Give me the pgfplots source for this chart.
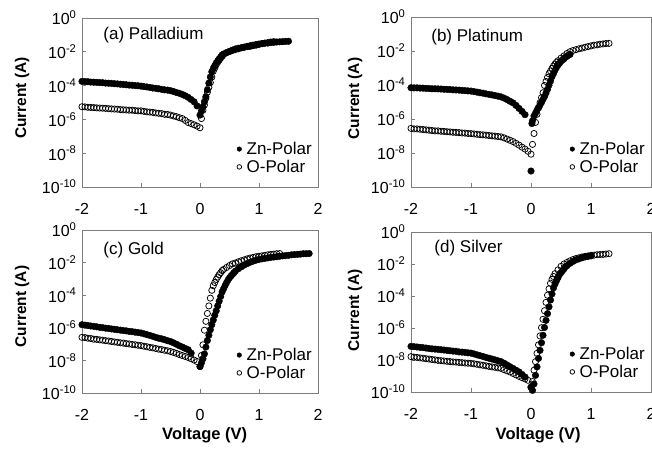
\documentclass[border=0pt]{standalone}
\usepackage{pgfplots}
\pgfplotsset{compat=1.18}
\usepackage{fontspec}
\setmainfont{Liberation Sans}

\definecolor{framegray}{RGB}{125,125,125}

\pgfplotsset{
  ivpanel/.style={
    scale only axis,
    anchor=south west,
    xmin=-2, xmax=2,
    xtick={-2,-1,0,1,2},
    xticklabels={-2,-1,0,1,2},
    axis line style={framegray, line width=0.9pt},
    every tick/.style={framegray, line width=0.8pt},
    tick align=inside,
    major tick length=4pt,
    xtick pos=bottom, ytick pos=left,
    tick label style={font=\fontsize{16}{18}\selectfont},
    xticklabel style={yshift=-13pt},
    yticklabel style={xshift=-2pt},
    every axis y label/.style={rotate=90, anchor=center,
      font=\fontsize{15.5}{17}\selectfont\bfseries},
    every axis x label/.style={anchor=center,
      font=\fontsize{16.5}{18}\selectfont\bfseries},
    ylabel={Current (A)},
    legend style={draw=none, fill=none, at={(1,0)}, anchor=south east,
      xshift=-3pt, yshift=10pt,
      font=\fontsize{17}{19}\selectfont, row sep=0pt, inner sep=1pt,
      /tikz/every odd column/.append style={column sep=3pt}},
    legend cell align=left,
    clip=false,
  },
  zn/.style={only marks, mark=*, mark size=3.3pt, mark options={draw=black, fill=black}},
  opol/.style={only marks, mark=o, mark size=3.1pt, mark options={draw=black, line width=0.75pt, fill=white}},
  smallmark/.style={legend image post style={mark size=2.3pt}},
}

\newcommand{\paneltitle}[3]{\node[anchor=west, font=\fontsize{17}{19}\selectfont] at (rel axis cs:#1,#2) {#3};}

\begin{document}
\begin{tikzpicture}

% ---------------- (a) Palladium ----------------
\begin{axis}[ivpanel, ymode=log, ymin=1e-10, ymax=1,
  ytick={1e-10,1e-8,1e-6,1e-4,1e-2,1},
  yticklabels={10\textsuperscript{-10},10\textsuperscript{-8},10\textsuperscript{-6},10\textsuperscript{-4},10\textsuperscript{-2},10\textsuperscript{0}},
  yminorticks=false,
  at={(82pt,262pt)}, width=236pt, height=169pt,
  every axis y label/.append style={at={(axis description cs:-0.254,0.527)}}]
\addplot[zn, smallmark] coordinates {
(-2.00,1.78e-4) (-1.95,1.74e-4) (-1.90,1.70e-4) (-1.85,1.62e-4) (-1.80,1.58e-4)
(-1.75,1.55e-4) (-1.70,1.51e-4) (-1.65,1.48e-4) (-1.60,1.41e-4) (-1.55,1.38e-4)
(-1.50,1.35e-4) (-1.45,1.29e-4) (-1.40,1.26e-4) (-1.35,1.20e-4) (-1.30,1.17e-4)
(-1.25,1.12e-4) (-1.20,1.07e-4) (-1.15,1.05e-4) (-1.10,1.00e-4) (-1.05,9.8e-5)
(-1.00,9.3e-5) (-0.95,8.7e-5) (-0.90,8.3e-5) (-0.85,7.8e-5) (-0.80,7.2e-5)
(-0.75,6.9e-5) (-0.70,6.5e-5) (-0.65,6.0e-5) (-0.60,5.6e-5) (-0.55,5.4e-5)
(-0.50,5.0e-5) (-0.45,4.5e-5) (-0.40,3.9e-5) (-0.35,3.5e-5) (-0.30,3.0e-5)
(-0.25,2.5e-5) (-0.20,2.0e-5) (-0.15,1.5e-5) (-0.10,1.1e-5) (-0.05,6.3e-6)
(0.00,1.8e-6) (0.025,3.2e-6) (0.05,5.6e-6) (0.075,1.1e-5) (0.10,2.2e-5)
(0.125,5.6e-5) (0.15,1.4e-4) (0.175,3.2e-4) (0.20,6.6e-4) (0.225,1.05e-3)
(0.25,1.5e-3) (0.275,2.2e-3) (0.30,2.9e-3) (0.325,3.8e-3) (0.35,5.0e-3)
(0.375,6.5e-3) (0.40,7.4e-3) (0.45,8.9e-3) (0.50,1.05e-2) (0.55,1.26e-2)
(0.60,1.48e-2) (0.65,1.62e-2) (0.70,1.74e-2) (0.75,1.86e-2) (0.80,2.0e-2)
(0.85,2.1e-2) (0.90,2.3e-2) (0.95,2.5e-2) (1.00,2.75e-2) (1.05,3.0e-2)
(1.10,3.2e-2) (1.15,3.3e-2) (1.20,3.5e-2) (1.25,3.6e-2) (1.30,3.8e-2)
(1.35,3.9e-2) (1.40,4.0e-2) (1.45,4.1e-2) (1.50,4.2e-2)
};
\addlegendentry{Zn-Polar}
\addplot[opol, smallmark] coordinates {
(-2.00,5.6e-6) (-1.95,5.5e-6) (-1.90,5.2e-6) (-1.85,5.1e-6) (-1.80,5.0e-6)
(-1.75,4.8e-6) (-1.70,4.7e-6) (-1.65,4.6e-6) (-1.60,4.5e-6) (-1.55,4.3e-6)
(-1.50,4.2e-6) (-1.45,4.1e-6) (-1.40,4.0e-6) (-1.35,3.8e-6) (-1.30,3.7e-6)
(-1.25,3.6e-6) (-1.20,3.5e-6) (-1.15,3.5e-6) (-1.10,3.3e-6) (-1.05,3.2e-6)
(-1.00,3.2e-6) (-0.95,3.0e-6) (-0.90,2.8e-6) (-0.85,2.7e-6) (-0.80,2.6e-6)
(-0.75,2.4e-6) (-0.70,2.3e-6) (-0.65,2.2e-6) (-0.60,2.0e-6) (-0.55,1.95e-6)
(-0.50,1.8e-6) (-0.45,1.6e-6) (-0.40,1.45e-6) (-0.35,1.26e-6) (-0.30,1.12e-6)
(-0.25,8.7e-7) (-0.20,6.5e-7) (-0.15,5.6e-7) (-0.10,4.8e-7) (-0.05,4.0e-7)
(0.00,3.2e-7) (0.025,1.12e-6) (0.05,3.5e-6) (0.075,7.1e-6) (0.10,1.8e-5)
(0.125,4.0e-5) (0.15,7.9e-5) (0.175,1.5e-4) (0.20,3.2e-4) (0.225,7.1e-4)
(0.25,1.1e-3) (0.275,1.7e-3) (0.30,2.4e-3) (0.325,3.2e-3) (0.35,4.2e-3)
(0.375,5.4e-3) (0.40,6.8e-3) (0.45,8.9e-3) (0.50,1.05e-2) (0.55,1.2e-2)
(0.60,1.35e-2) (0.65,1.5e-2) (0.70,1.7e-2) (0.75,1.9e-2) (0.80,2.1e-2)
(0.85,2.3e-2) (0.90,2.5e-2) (0.95,2.7e-2) (1.00,2.9e-2) (1.05,3.1e-2)
(1.10,3.3e-2) (1.15,3.5e-2) (1.20,3.8e-2) (1.25,4.0e-2)
};
\addlegendentry{O-Polar}
\paneltitle{0.076}{0.9}{(a) Palladium}
\end{axis}

% ---------------- (b) Platinum ----------------
\begin{axis}[ivpanel, ymode=log, ymin=1e-10, ymax=1,
  ytick={1e-10,1e-8,1e-6,1e-4,1e-2,1},
  yticklabels={10\textsuperscript{-10},10\textsuperscript{-8},10\textsuperscript{-6},10\textsuperscript{-4},10\textsuperscript{-2},10\textsuperscript{0}},
  yminorticks=false,
  at={(411pt,262pt)}, width=240pt, height=170pt,
  every axis y label/.append style={at={(axis description cs:-0.233,0.52)}}]
\addplot[zn, smallmark] coordinates {
(-2.00,6.9e-5) (-1.95,6.8e-5) (-1.90,6.8e-5) (-1.85,6.6e-5) (-1.80,6.5e-5)
(-1.75,6.3e-5) (-1.70,6.2e-5) (-1.65,6.0e-5) (-1.60,6.0e-5) (-1.55,5.9e-5)
(-1.50,5.8e-5) (-1.45,5.6e-5) (-1.40,5.5e-5) (-1.35,5.4e-5) (-1.30,5.2e-5)
(-1.25,5.1e-5) (-1.20,5.0e-5) (-1.15,4.8e-5) (-1.10,4.7e-5) (-1.05,4.5e-5)
(-1.00,4.4e-5) (-0.95,4.1e-5) (-0.90,3.8e-5) (-0.85,3.5e-5) (-0.80,3.3e-5)
(-0.75,3.0e-5) (-0.70,2.8e-5) (-0.65,2.6e-5) (-0.60,2.4e-5) (-0.55,2.2e-5)
(-0.50,2.0e-5) (-0.45,1.7e-5) (-0.40,1.4e-5) (-0.35,1.1e-5) (-0.30,8.9e-6)
(-0.25,6.3e-6) (-0.20,4.2e-6) (-0.15,2.8e-6) (-0.10,1.8e-6)
(0.00,8.7e-10) (0.015,5.4e-7) (0.025,7.9e-7) (0.05,1.5e-6) (0.075,2.2e-6)
(0.10,3.3e-6) (0.125,4.7e-6) (0.15,6.6e-6) (0.175,9.5e-6) (0.20,1.45e-5)
(0.225,2.1e-5) (0.25,3.4e-5) (0.275,5.6e-5) (0.30,9.8e-5) (0.325,1.7e-4)
(0.35,3.1e-4) (0.375,4.8e-4) (0.40,7.4e-4) (0.425,1.1e-3) (0.45,1.5e-3)
(0.475,1.9e-3) (0.50,2.5e-3) (0.525,3.0e-3) (0.55,3.5e-3) (0.575,4.3e-3)
(0.60,4.9e-3) (0.625,5.6e-3) (0.65,6.3e-3)
};
\addlegendentry{Zn-Polar}
\addplot[opol, smallmark] coordinates {
(-2.00,2.8e-7) (-1.95,2.6e-7) (-1.90,2.6e-7) (-1.85,2.5e-7) (-1.80,2.4e-7)
(-1.75,2.3e-7) (-1.70,2.2e-7) (-1.65,2.1e-7) (-1.60,2.0e-7) (-1.55,2.0e-7)
(-1.50,1.9e-7) (-1.45,1.86e-7) (-1.40,1.78e-7) (-1.35,1.74e-7) (-1.30,1.66e-7)
(-1.25,1.62e-7) (-1.20,1.58e-7) (-1.15,1.51e-7) (-1.10,1.48e-7) (-1.05,1.41e-7)
(-1.00,1.38e-7) (-0.95,1.32e-7) (-0.90,1.26e-7) (-0.85,1.2e-7) (-0.80,1.17e-7)
(-0.75,1.12e-7) (-0.70,1.07e-7) (-0.65,1.02e-7) (-0.60,9.8e-8) (-0.55,9.3e-8)
(-0.50,8.9e-8) (-0.45,7.8e-8) (-0.40,6.6e-8) (-0.35,5.6e-8) (-0.30,4.7e-8)
(-0.25,3.7e-8) (-0.20,2.9e-8) (-0.15,2.2e-8) (-0.10,1.7e-8) (-0.05,1.26e-8)
(0.00,8.5e-9) (0.025,3.2e-8) (0.05,1.4e-7) (0.075,6.3e-7) (0.10,1.9e-6)
(0.125,4.5e-6) (0.15,9.1e-6) (0.175,1.8e-5) (0.20,3.5e-5) (0.225,9.3e-5)
(0.25,1.6e-4) (0.275,2.8e-4) (0.30,4.6e-4) (0.325,6.6e-4) (0.35,9.5e-4)
(0.375,1.3e-3) (0.40,1.7e-3) (0.425,2.2e-3) (0.45,2.7e-3) (0.50,3.8e-3)
(0.55,5.2e-3) (0.60,7.1e-3) (0.65,9.1e-3) (0.70,1.07e-2) (0.75,1.2e-2)
(0.80,1.35e-2) (0.85,1.48e-2) (0.90,1.66e-2) (0.95,1.82e-2) (1.00,2.0e-2)
(1.05,2.2e-2) (1.10,2.3e-2) (1.15,2.5e-2) (1.20,2.6e-2) (1.25,2.75e-2)
(1.30,2.8e-2)
};
\addlegendentry{O-Polar}
\paneltitle{0.07}{0.88}{(b) Platinum}
\end{axis}

% ---------------- (c) Gold ----------------
\begin{axis}[ivpanel, ymode=log, ymin=1e-10, ymax=1,
  ytick={1e-10,1e-8,1e-6,1e-4,1e-2,1},
  yticklabels={10\textsuperscript{-10},10\textsuperscript{-8},10\textsuperscript{-6},10\textsuperscript{-4},10\textsuperscript{-2},10\textsuperscript{0}},
  yminorticks=false,
  at={(82pt,56pt)}, width=236pt, height=163pt,
  xlabel={Voltage (V)},
  every axis y label/.append style={at={(axis description cs:-0.254,0.53)}},
  every axis x label/.append style={at={(axis description cs:0.52,-0.258)}}]
\addplot[zn, smallmark] coordinates {
(-2.00,1.55e-6) (-1.95,1.45e-6) (-1.90,1.38e-6) (-1.85,1.29e-6) (-1.80,1.23e-6)
(-1.75,1.15e-6) (-1.70,1.07e-6) (-1.65,1.02e-6) (-1.60,9.5e-7) (-1.55,9.1e-7)
(-1.50,8.5e-7) (-1.45,8.1e-7) (-1.40,7.6e-7) (-1.35,7.2e-7) (-1.30,6.8e-7)
(-1.25,6.5e-7) (-1.20,6.0e-7) (-1.15,5.8e-7) (-1.10,5.4e-7) (-1.05,5.1e-7)
(-1.00,4.8e-7) (-0.95,4.3e-7) (-0.90,3.8e-7) (-0.85,3.4e-7) (-0.80,3.0e-7)
(-0.75,2.6e-7) (-0.70,2.3e-7) (-0.65,2.1e-7) (-0.60,1.86e-7) (-0.55,1.62e-7)
(-0.50,1.45e-7) (-0.45,1.2e-7) (-0.40,9.8e-8) (-0.35,7.9e-8) (-0.30,6.6e-8)
(-0.25,5.4e-8) (-0.20,4.5e-8) (-0.15,2.8e-8)
(0.00,4.2e-9) (0.025,7.1e-9) (0.05,1.26e-8) (0.075,2.5e-8) (0.10,6.6e-8)
(0.125,1.66e-7) (0.15,3.5e-7) (0.175,7.6e-7) (0.20,1.55e-6) (0.225,3.0e-6)
(0.25,5.9e-6) (0.275,1.1e-5) (0.30,2.2e-5) (0.325,4.3e-5) (0.35,8.3e-5)
(0.375,1.6e-4) (0.40,2.5e-4) (0.425,3.9e-4) (0.45,5.9e-4) (0.475,8.5e-4)
(0.50,1.17e-3) (0.525,1.5e-3) (0.55,1.9e-3) (0.575,2.4e-3) (0.60,3.0e-3)
(0.65,4.2e-3) (0.70,5.5e-3) (0.75,7.1e-3) (0.80,8.7e-3) (0.85,1.05e-2)
(0.90,1.23e-2) (0.95,1.41e-2) (1.00,1.58e-2) (1.05,1.7e-2) (1.10,1.82e-2)
(1.15,1.95e-2) (1.20,2.1e-2) (1.25,2.2e-2) (1.30,2.3e-2) (1.35,2.45e-2)
(1.40,2.6e-2) (1.45,2.7e-2) (1.50,2.8e-2) (1.55,3.0e-2) (1.60,3.1e-2)
(1.65,3.2e-2) (1.70,3.3e-2) (1.75,3.5e-2) (1.80,3.5e-2) (1.85,3.6e-2)
};
\addlegendentry{Zn-Polar}
\addplot[opol, smallmark] coordinates {
(-2.00,2.6e-7) (-1.95,2.5e-7) (-1.90,2.3e-7) (-1.85,2.2e-7) (-1.80,2.0e-7)
(-1.75,1.95e-7) (-1.70,1.82e-7) (-1.65,1.74e-7) (-1.60,1.62e-7) (-1.55,1.55e-7)
(-1.50,1.45e-7) (-1.45,1.35e-7) (-1.40,1.29e-7) (-1.35,1.2e-7) (-1.30,1.15e-7)
(-1.25,1.07e-7) (-1.20,1.02e-7) (-1.15,9.5e-8) (-1.10,9.1e-8) (-1.05,8.5e-8)
(-1.00,8.1e-8) (-0.95,7.4e-8) (-0.90,6.9e-8) (-0.85,6.3e-8) (-0.80,5.9e-8)
(-0.75,5.4e-8) (-0.70,4.9e-8) (-0.65,4.6e-8) (-0.60,4.2e-8) (-0.55,3.9e-8)
(-0.50,3.5e-8) (-0.45,3.1e-8) (-0.40,2.7e-8) (-0.35,2.3e-8) (-0.30,2.0e-8)
(-0.25,1.74e-8) (-0.20,1.51e-8) (-0.15,1.26e-8) (-0.10,1.05e-8) (-0.05,8.5e-9)
(0.00,4.2e-9) (0.025,2.0e-8) (0.05,9.1e-8) (0.075,7.1e-7) (0.10,2.5e-6)
(0.125,7.6e-6) (0.15,2.2e-5) (0.175,6.6e-5) (0.20,2.0e-4) (0.225,3.8e-4)
(0.25,6.0e-4) (0.275,9.3e-4) (0.30,1.3e-3) (0.325,1.8e-3) (0.35,2.4e-3)
(0.375,3.2e-3) (0.40,3.8e-3) (0.45,5.0e-3) (0.50,6.6e-3) (0.55,8.3e-3)
(0.60,9.5e-3) (0.65,1.12e-2) (0.70,1.3e-2) (0.75,1.48e-2) (0.80,1.7e-2)
(0.85,1.9e-2) (0.90,2.1e-2) (0.95,2.3e-2) (1.00,2.45e-2) (1.05,2.6e-2)
(1.10,2.8e-2) (1.15,3.0e-2) (1.20,3.2e-2) (1.25,3.3e-2) (1.30,3.5e-2)
(1.35,3.6e-2)
};
\addlegendentry{O-Polar}
\paneltitle{0.076}{0.877}{(c) Gold}
\end{axis}

% ---------------- (d) Silver ----------------
\begin{axis}[ivpanel, ymode=log, ymin=1e-10, ymax=1,
  ytick={1e-10,1e-8,1e-6,1e-4,1e-2,1},
  yticklabels={10\textsuperscript{-10},10\textsuperscript{-8},10\textsuperscript{-6},10\textsuperscript{-4},10\textsuperscript{-2},10\textsuperscript{0}},
  yminorticks=false,
  at={(411pt,57pt)}, width=240pt, height=160pt,
  xlabel={Voltage (V)},
  every axis y label/.append style={at={(axis description cs:-0.233,0.51)}},
  every axis x label/.append style={at={(axis description cs:0.53,-0.27)}}]
\addplot[zn, smallmark] coordinates {
(-2.00,7.1e-8) (-1.95,6.8e-8) (-1.90,6.5e-8) (-1.85,6.2e-8) (-1.80,5.9e-8)
(-1.75,5.6e-8) (-1.70,5.2e-8) (-1.65,5.0e-8) (-1.60,4.8e-8) (-1.55,4.6e-8)
(-1.50,4.4e-8) (-1.45,4.2e-8) (-1.40,4.0e-8) (-1.35,3.8e-8) (-1.30,3.6e-8)
(-1.25,3.5e-8) (-1.20,3.2e-8) (-1.15,3.1e-8) (-1.10,3.0e-8) (-1.05,2.8e-8)
(-1.00,2.7e-8) (-0.95,2.4e-8) (-0.90,2.1e-8) (-0.85,1.86e-8) (-0.80,1.66e-8)
(-0.75,1.45e-8) (-0.70,1.29e-8) (-0.65,1.15e-8) (-0.60,1.02e-8) (-0.55,8.9e-9)
(-0.50,7.9e-9) (-0.45,6.3e-9) (-0.40,4.9e-9) (-0.35,3.8e-9) (-0.30,3.0e-9)
(-0.25,2.3e-9) (-0.20,1.8e-9) (-0.15,1.26e-9) (-0.10,8.7e-10)
(0.00,2.0e-10) (0.025,1.26e-10) (0.05,3.2e-10) (0.075,1.1e-9) (0.10,3.7e-9)
(0.125,1.26e-8) (0.15,4.0e-8) (0.175,1.2e-7) (0.20,3.5e-7) (0.225,1.07e-6)
(0.25,3.0e-6) (0.275,7.9e-6) (0.30,2.1e-5) (0.325,5.6e-5) (0.35,1.35e-4)
(0.375,3.2e-4) (0.40,5.6e-4) (0.425,9.1e-4) (0.45,1.4e-3) (0.475,2.2e-3)
(0.50,2.9e-3) (0.525,3.8e-3) (0.55,5.0e-3) (0.575,6.8e-3) (0.60,7.9e-3)
(0.65,1.1e-2) (0.70,1.45e-2) (0.75,1.82e-2) (0.80,2.1e-2) (0.85,2.45e-2)
(0.90,2.75e-2) (0.95,3.0e-2) (1.00,3.2e-2)
};
\addlegendentry{Zn-Polar}
\addplot[opol, smallmark] coordinates {
(-2.00,1.62e-8) (-1.95,1.51e-8) (-1.90,1.45e-8) (-1.85,1.35e-8) (-1.80,1.29e-8)
(-1.75,1.2e-8) (-1.70,1.15e-8) (-1.65,1.07e-8) (-1.60,1.02e-8) (-1.55,9.5e-9)
(-1.50,9.1e-9) (-1.45,8.7e-9) (-1.40,8.3e-9) (-1.35,7.9e-9) (-1.30,7.6e-9)
(-1.25,7.4e-9) (-1.20,7.1e-9) (-1.15,6.8e-9) (-1.10,6.5e-9) (-1.05,6.3e-9)
(-1.00,6.2e-9) (-0.95,5.8e-9) (-0.90,5.4e-9) (-0.85,5.0e-9) (-0.80,4.7e-9)
(-0.75,4.3e-9) (-0.70,4.0e-9) (-0.65,3.7e-9) (-0.60,3.5e-9) (-0.55,3.2e-9)
(-0.50,3.0e-9) (-0.45,2.5e-9) (-0.40,2.1e-9) (-0.35,1.8e-9) (-0.30,1.45e-9)
(-0.25,1.17e-9) (-0.20,9.5e-10) (-0.15,7.9e-10) (-0.10,6.6e-10) (-0.05,5.4e-10)
(0.00,2.0e-10) (0.025,4.5e-10) (0.05,2.3e-9) (0.075,7.9e-9) (0.10,2.6e-8)
(0.125,8.9e-8) (0.15,3.2e-7) (0.175,1.05e-6) (0.20,3.5e-6) (0.225,1.2e-5)
(0.25,4.0e-5) (0.275,1.12e-4) (0.30,2.8e-4) (0.325,6.3e-4) (0.35,1.1e-3)
(0.375,1.66e-3) (0.40,2.5e-3) (0.45,4.3e-3) (0.50,7.1e-3) (0.55,1.0e-2)
(0.60,1.26e-2) (0.65,1.58e-2) (0.70,1.9e-2) (0.75,2.2e-2) (0.80,2.45e-2)
(0.85,2.75e-2) (0.90,3.0e-2) (0.95,3.2e-2) (1.00,3.5e-2) (1.05,3.6e-2)
(1.10,3.8e-2) (1.15,3.9e-2) (1.20,4.0e-2) (1.25,4.2e-2) (1.30,4.4e-2)
};
\addlegendentry{O-Polar}
\paneltitle{0.083}{0.9}{(d) Silver}
\end{axis}

\pgfresetboundingbox
\path (0pt,0pt) rectangle (652pt,449pt);
\end{tikzpicture}
\end{document}
